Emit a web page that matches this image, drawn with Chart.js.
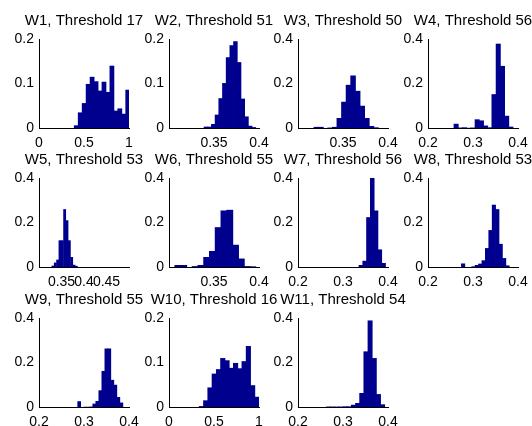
<!DOCTYPE html>
<html><head><meta charset="utf-8">
<script src="https://cdn.jsdelivr.net/npm/chart.js@4.4.0/dist/chart.umd.min.js"></script>
<style>
html,body{margin:0;padding:0;background:#fff;}
#fig{position:relative;width:532px;height:426px;overflow:hidden;background:#fff;}
#fig canvas{position:absolute;}
</style></head><body><div id="fig"></div>
<script>
const titles = ["W1, Threshold 17","W2, Threshold 51","W3, Threshold 50","W4, Threshold 56",
  "W5, Threshold 53","W6, Threshold 55","W7, Threshold 56","W8, Threshold 53",
  "W9, Threshold 55","W10, Threshold 16","W11, Threshold 54"];

const w1Centers = [0.414,0.458,0.502,0.546,0.590,0.634,0.678,0.722,0.766,0.810,0.854,0.898,0.942,0.986];
const w1Freq    = [0.006,0.035,0.056,0.099,0.115,0.105,0.084,0.104,0.081,0.140,0.039,0.044,0.032,0.086];
const w2Centers = [0.3410,0.3451,0.3492,0.3533,0.3574,0.3615,0.3656,0.3697,0.3738,0.3779,0.3820,0.3861,0.3902,0.3943];
const w2Freq    = [0.003,0.003,0.009,0.030,0.067,0.101,0.159,0.186,0.195,0.148,0.066,0.026,0.005,0.002];
const w3Centers = [0.3204,0.3255,0.3306,0.3357,0.3408,0.3459,0.3510,0.3561,0.3612,0.3663,0.3714,0.3765,0.3816,0.3867];
const w3Freq    = [0.005,0.005,0.000,0.002,0.005,0.045,0.118,0.194,0.236,0.167,0.100,0.045,0.009,0.003];
const w4Centers = [0.2625,0.2719,0.2812,0.2906,0.2999,0.3093,0.3187,0.3280,0.3374,0.3467,0.3561,0.3655,0.3748,0.3842];
const w4Freq    = [0.019,0.002,0.003,0.001,0.002,0.039,0.034,0.011,0.003,0.152,0.379,0.279,0.055,0.006];
const w5Centers = [0.3310,0.3362,0.3414,0.3466,0.3518,0.3570,0.3622,0.3674,0.3726,0.3778,0.3830];
const w5Freq    = [0.006,0.020,0.033,0.120,0.120,0.260,0.210,0.120,0.045,0.010,0.005];
const w6Centers = [0.3099,0.3163,0.3227,0.3291,0.3355,0.3419,0.3483,0.3547,0.3611,0.3675,0.3739,0.3803,0.3867,0.3931];
const w6Freq    = [0.009,0.009,0.000,0.004,0.009,0.045,0.072,0.179,0.254,0.257,0.100,0.038,0.004,0.003];
const w7Centers = [0.3398,0.3482,0.3566,0.3650,0.3734,0.3818,0.3902];
const w7Freq    = [0.009,0.028,0.224,0.400,0.254,0.079,0.018];
const w8Centers = [0.2780,0.2856,0.2932,0.3008,0.3084,0.3160,0.3236,0.3312,0.3388,0.3464,0.3540,0.3616,0.3692,0.3768];
const w8Freq    = [0.016,0.000,0.000,0.003,0.009,0.015,0.030,0.085,0.166,0.280,0.260,0.104,0.040,0.007];
const w9Centers = [0.2893,0.2960,0.3027,0.3094,0.3161,0.3228,0.3295,0.3362,0.3429,0.3496,0.3563,0.3630,0.3697,0.3764,0.3831];
const w9Freq    = [0.026,0.000,0.001,0.001,0.002,0.015,0.027,0.075,0.162,0.263,0.263,0.122,0.100,0.045,0.020];
const w10Centers = [0.3605,0.4079,0.4553,0.5027,0.5501,0.5975,0.6449,0.6923,0.7397,0.7871,0.8345,0.8819,0.9293,0.9767];
const w10Freq    = [0.002,0.015,0.044,0.075,0.085,0.110,0.105,0.088,0.099,0.087,0.103,0.137,0.049,0.023];
const w11Centers = [0.2676,0.2769,0.2862,0.2954,0.3047,0.3139,0.3232,0.3325,0.3417,0.3510,0.3602,0.3695,0.3788,0.3880];
const w11Freq    = [0.002,0.002,0.002,0.002,0.003,0.003,0.010,0.018,0.063,0.250,0.389,0.220,0.058,0.012];

const xTicksUnit = [0, 0.5, 1];
const xTicksNarrow = [0.35, 0.4];
const xTicksWide = [0.2, 0.3, 0.4];
const xTicksW5 = [0.35, 0.4, 0.45];
const yTicksLow = [0, 0.1, 0.2];
const yTicksHigh = [0, 0.2, 0.4];

const xLimUnit = [0, 1];
const xLimNarrow = [0.3, 0.4];
const xLimWide = [0.2, 0.4];
const xLimW5 = [0.3, 0.5];

const panels = [
  [w1Centers, w1Freq, xLimUnit, xTicksUnit, yTicksLow],
  [w2Centers, w2Freq, xLimNarrow, xTicksNarrow, yTicksLow],
  [w3Centers, w3Freq, xLimNarrow, xTicksNarrow, yTicksHigh],
  [w4Centers, w4Freq, xLimWide, xTicksWide, yTicksHigh],
  [w5Centers, w5Freq, xLimW5, xTicksW5, yTicksHigh],
  [w6Centers, w6Freq, xLimNarrow, xTicksNarrow, yTicksHigh],
  [w7Centers, w7Freq, xLimWide, xTicksWide, yTicksHigh],
  [w8Centers, w8Freq, xLimWide, xTicksWide, yTicksHigh],
  [w9Centers, w9Freq, xLimWide, xTicksWide, yTicksHigh],
  [w10Centers, w10Freq, xLimUnit, xTicksUnit, yTicksLow],
  [w11Centers, w11Freq, xLimWide, xTicksWide, yTicksHigh]
];

// layout (pixels)
const colLeft = [39, 169, 298, 428];
const rowTop = [39, 178, 318];
const AXW = 90, AXH = 89, PADX = 40, TOP = 40, BOT = 26;

Chart.defaults.font.family = '"Liberation Sans", Arial, Helvetica, sans-serif';
Chart.defaults.color = '#000';

const fig = document.getElementById('fig');
panels.forEach((p, i) => {
  const [centers, freq, xlim, xticks, yticks] = p;
  const r = Math.floor(i / 4), c = i % 4;
  const cv = document.createElement('canvas');
  cv.width = PADX * 2 + AXW;
  cv.height = TOP + AXH + BOT;
  cv.style.left = (colLeft[c] - PADX) + 'px';
  cv.style.top = (rowTop[r] - TOP) + 'px';
  fig.appendChild(cv);
  new Chart(cv, {
    type: 'bar',
    data: {
      datasets: [{
        data: centers.map((x, k) => ({x: x, y: freq[k]})),
        backgroundColor: '#00008F',
        borderWidth: 0,
        barPercentage: 1,
        categoryPercentage: 1.2,
        clip: 0
      }]
    },
    options: {
      responsive: false,
      animation: false,
      events: [],
      layout: {padding: 0},
      plugins: {
        legend: {display: false},
        tooltip: {enabled: false},
        title: {
          display: true, text: titles[i], color: '#000',
          font: {size: 15, weight: 'normal'},
          padding: {top: 13.35, bottom: 8.65}
        }
      },
      scales: {
        x: {
          type: 'linear', min: xlim[0], max: xlim[1], offset: false,
          grid: {display: false, drawTicks: false},
          border: {display: true, color: '#000', width: 1},
          ticks: {autoSkip: false, maxRotation: 0, minRotation: 0, padding: 7,
                  color: '#000', font: {size: 14}, callback: v => String(v)},
          afterBuildTicks: s => { s.ticks = xticks.map(v => ({value: v})); },
          afterFit: s => { s.height = BOT; }
        },
        y: {
          type: 'linear', position: 'left', min: yticks[0], max: yticks[yticks.length - 1],
          grid: {display: false, drawTicks: false},
          border: {display: true, color: '#000', width: 1},
          ticks: {padding: 5, color: '#000', font: {size: 14}, callback: v => String(v)},
          afterBuildTicks: s => { s.ticks = yticks.map(v => ({value: v})); },
          afterFit: s => { s.width = PADX; }
        },
        yRight: {
          type: 'linear', position: 'right', min: 0, max: 1,
          grid: {display: false, drawTicks: false},
          border: {display: false},
          ticks: {display: false},
          afterFit: s => { s.width = PADX; }
        }
      }
    }
  });
});
</script>
</body></html>
